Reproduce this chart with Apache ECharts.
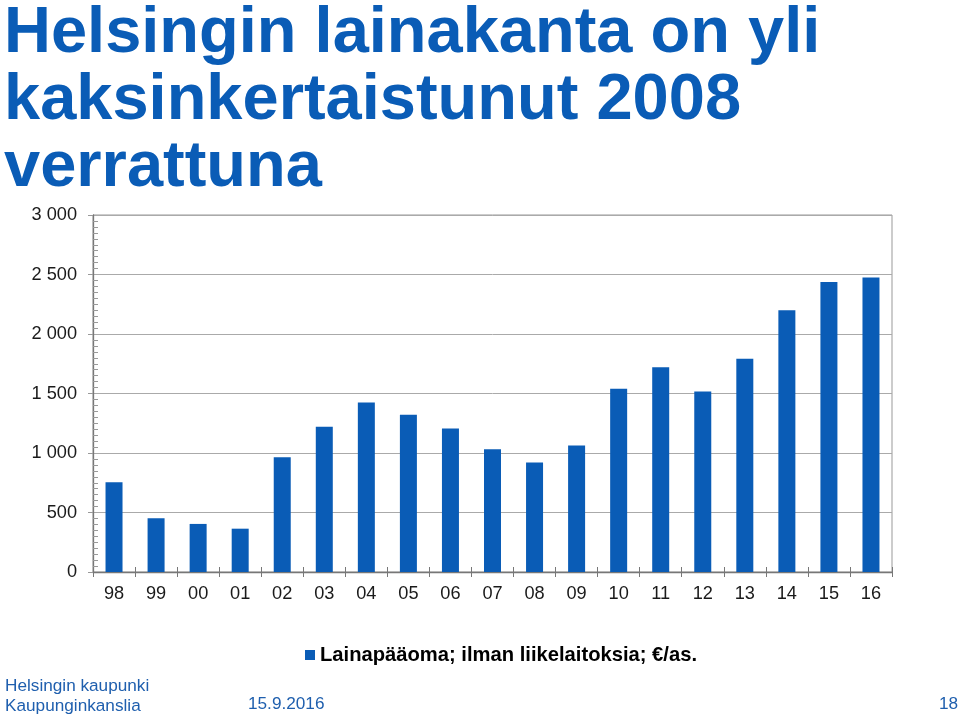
<!DOCTYPE html>
<html>
<head>
<meta charset="utf-8">
<script src="https://cdn.jsdelivr.net/npm/echarts@6/dist/echarts.min.js"></script>
<style>
html,body{margin:0;padding:0;background:#fff;}
#chart{width:960px;height:720px;}
</style>
</head>
<body>
<div id="chart"></div>
<script>
var titleLines = ['Helsingin lainakanta on yli', 'kaksinkertaistunut 2008', 'verrattuna'];
var years = ['98','99','00','01','02','03','04','05','06','07','08','09','10','11','12','13','14','15','16'];
var loanPerCapita = [754, 451, 404, 364, 965, 1220, 1425, 1321, 1206, 1032, 920, 1063, 1540, 1720, 1517, 1792, 2199, 2438, 2474];
var seriesName = 'Lainapääoma; ilman liikelaitoksia; €/as.';
var yTicks = {min: 0, max: 3000, interval: 500};
var footerLeft = ['Helsingin kaupunki', 'Kaupunginkanslia'];
var footerDate = '15.9.2016';
var pageNumber = '18';

var blue = '#0a5cb6';
var font = '"Liberation Sans", Arial, sans-serif';

var chart = echarts.init(document.getElementById('chart'), null, {renderer: 'canvas'});
chart.setOption({
  animation: false,
  backgroundColor: '#fff',
  title: {
    text: titleLines.join('\n'),
    left: -1,
    top: -4,
    textStyle: {fontFamily: font, fontSize: 65, fontWeight: 'bold', color: blue, lineHeight: 67}
  },
  legend: {
    data: [seriesName],
    left: 300,
    top: 640,
    icon: 'rect',
    itemWidth: 10,
    itemHeight: 10,
    itemGap: 5,
    textStyle: {fontFamily: font, fontSize: 20.2, fontWeight: 'bold', color: '#000'}
  },
  grid: {
    left: 93, right: 68, top: 215, bottom: 148,
    show: true, borderColor: '#999', borderWidth: 1, backgroundColor: 'transparent'
  },
  xAxis: [{
    type: 'category',
    data: years,
    position: 'bottom',
    offset: 0,
    boundaryGap: true,
    axisLine: {show: true, lineStyle: {color: '#777', width: 1.3}},
    axisTick: {show: true, length: 5, interval: 0, lineStyle: {color: '#777'}},
    axisLabel: {fontFamily: font, fontSize: 18.2, color: '#1a1a1a', margin: 13, interval: 0}
  }, {
    type: 'category',
    data: years,
    position: 'bottom',
    offset: 0,
    boundaryGap: true,
    axisLine: {show: false},
    axisTick: {show: true, inside: true, length: 5, interval: 0, lineStyle: {color: '#777'}},
    axisLabel: {show: false}
  }],
  yAxis: [{
    type: 'value',
    position: 'left',
    offset: 0,
    min: yTicks.min, max: yTicks.max, interval: yTicks.interval,
    axisLine: {show: true, lineStyle: {color: '#777', width: 1.3}},
    axisTick: {show: true, length: 5, lineStyle: {color: '#999'}},
    axisLabel: {
      fontFamily: font, fontSize: 18.2, color: '#1a1a1a', margin: 16,
      formatter: function (v) { return String(v).replace(/\B(?=(\d{3})+(?!\d))/g, ' '); }
    },
    splitLine: {show: true, lineStyle: {color: '#aaa', width: 1}}
  }, {
    type: 'value',
    position: 'left',
    offset: 0,
    min: yTicks.min, max: yTicks.max, interval: yTicks.interval,
    axisLine: {show: false},
    axisTick: {show: false, inside: true},
    minorTick: {show: true, splitNumber: 10, length: 5, lineStyle: {color: '#999'}},
    axisLabel: {show: false},
    splitLine: {show: false}
  }],
  series: [{
    name: seriesName,
    type: 'bar',
    data: loanPerCapita,
    barWidth: 17,
    itemStyle: {color: blue}
  }],
  graphic: [
    {type: 'text', left: 5, top: 676, style: {text: footerLeft.join('\n'), fontFamily: font, fontSize: 17.2, lineHeight: 20, fill: '#1f5fae'}},
    {type: 'text', left: 248, top: 696, style: {text: footerDate, fontFamily: font, fontSize: 17.2, fill: '#1f5fae'}},
    {type: 'text', left: 939, top: 696, style: {text: pageNumber, fontFamily: font, fontSize: 17.2, fill: '#1f5fae'}}
  ]
});
</script>
</body>
</html>
